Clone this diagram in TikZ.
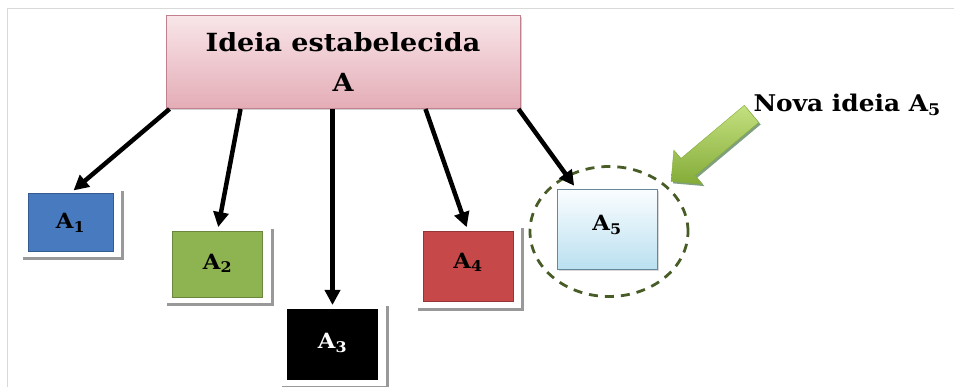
\documentclass[tikz,border=0pt]{standalone}
\usepackage{fontspec}
\setmainfont{DejaVu Serif}[FakeStretch=1.08]
\usepackage{tikz}
\usetikzlibrary{
  arrows.meta,
  positioning,
  shadows,
  shapes.arrows,
  shapes.geometric,
}
\definecolor{rosetop}{RGB}{248,230,233}
\definecolor{rosebottom}{RGB}{228,172,182}
\definecolor{roseline}{RGB}{192,128,142}
\definecolor{ideablue}{RGB}{72,122,192}
\definecolor{ideagreen}{RGB}{142,180,82}
\definecolor{ideared}{RGB}{198,72,72}
\definecolor{icetop}{RGB}{250,253,255}
\definecolor{icebottom}{RGB}{186,224,240}
\definecolor{iceline}{RGB}{140,180,205}
\definecolor{ringgreen}{RGB}{72,92,38}
\definecolor{leaflight}{RGB}{196,224,128}
\definecolor{leafdark}{RGB}{132,172,56}
\tikzstyle{headbox} = [
  rectangle,
  minimum width=354,
  minimum height=93,
  align=center,
  draw=roseline,
  line width=1pt,
  top color=rosetop,
  bottom color=rosebottom,
  drop shadow={fill=black!35, shadow xshift=2pt, shadow yshift=-2pt},
  font=\fontsize{25}{40}\selectfont\bfseries,
]
\tikzstyle{ideabox} = [
  rectangle,
  minimum width=90,
  minimum height=66,
  inner sep=0pt,
  fill=#1,
  draw=#1!75!black,
  line width=1pt,
  font=\fontsize{21}{24}\selectfont\bfseries,
]
\tikzstyle{framed} = [
  general shadow={fill=black!40, shadow scale=1.18, shadow xshift=2.5pt, shadow yshift=-2.5pt},
  general shadow={fill=white, shadow scale=1.18},
]
\tikzstyle{link} = [
  -{Triangle[length=15pt,width=15pt]},
  line width=4.5pt,
  black,
  shorten >=4pt,
]
\tikzstyle{ring} = [
  ellipse,
  draw=ringgreen,
  line width=2.8pt,
  dash pattern=on 9pt off 7pt,
  minimum width=158,
  minimum height=130,
]
\tikzstyle{pointer} = [
  single arrow,
  inner sep=11pt,
  single arrow head extend=11pt,
  minimum height=105,
  top color=leaflight,
  bottom color=leafdark,
  draw=leafdark,
  drop shadow={fill=green!25!black, shadow xshift=2pt, shadow yshift=-2pt},
]

\begin{document}
\begin{tikzpicture}[x=1pt,y=-1pt]
  \useasboundingbox (0,0) rectangle (954,387);
  \draw[black!15] (7,387) -- (7,8) -- (954,8);

  \node[headbox] (main) at (343,62) {Ideia estabelecida\\A};

  \node[ideabox=ideablue,framed,minimum width=85,minimum height=58] (a1) [below=84pt of main, xshift=-272.5pt] {\raisebox{3pt}{A\textsubscript{1}}};
  \node[ideabox=ideagreen,framed] (a2) [below=122pt of main, xshift=-125.5pt] {\raisebox{6pt}{A\textsubscript{2}}};
  \node[ideabox=black,framed,minimum height=70,text=white] (a3) [below=200pt of main, xshift=-10.5pt] {\raisebox{7pt}{A\textsubscript{3}}};
  \node[ideabox=ideared,framed,minimum height=70] (a4) [below=122pt of main, xshift=125pt] {\raisebox{12pt}{A\textsubscript{4}}};
  \node[ideabox=iceline,top color=icetop,bottom color=icebottom,minimum width=100,minimum height=80,
        drop shadow={fill=black!30, shadow xshift=1.5pt, shadow yshift=-1.5pt}] (a5) [below=80pt of main, xshift=264pt] {\raisebox{13pt}{A\textsubscript{5}}\hspace{14pt}};

  \node[ring] (circle5) at ([shift={(2,2)}]a5.center) {};

  \draw[link] ([xshift=4pt]main.south west) -- (a1.north);
  \draw[link] ([xshift=75pt]main.south west) -- (a2.north);
  \draw[link] ([xshift=-10.5pt]main.south) -- (a3.north);
  \draw[link] ([xshift=-95pt]main.south east) -- (a4.north);
  \draw[link] ([xshift=-2pt]main.south east) -- ([xshift=20pt]a5.north west);

  \node[pointer,rotate=220,anchor=tip] (hint) at ([shift={(5,-3)}]circle5.north east) {};
  \node[anchor=base west,font=\fontsize{23}{26}\selectfont\bfseries] (note) at (750,112) {Nova ideia A\textsubscript{5}};
\end{tikzpicture}
\end{document}
